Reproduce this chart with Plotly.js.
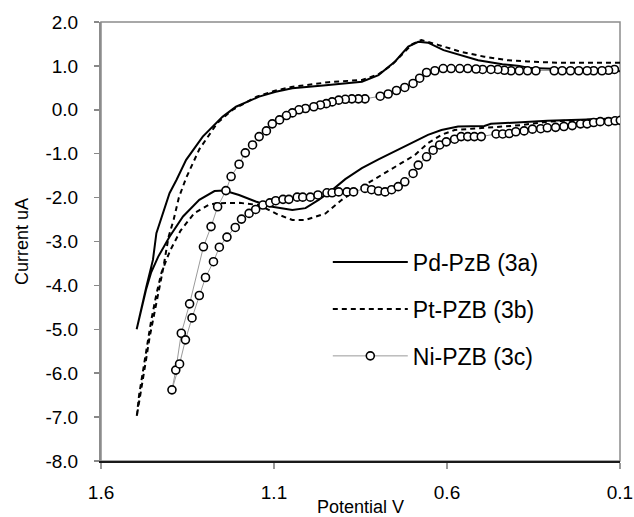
<!DOCTYPE html>
<html>
<head>
<meta charset="utf-8">
<script src="https://cdn.plot.ly/plotly-3.0.1.min.js"></script>
<style>html,body{margin:0;padding:0;background:#fff;}#chart{width:634px;height:517px;}</style>
</head>
<body>
<div id="chart"></div>
<script>
// Tick labels
const xTicks = [1.6, 1.1, 0.6, 0.1];
const xTickText = ["1.6", "1.1", "0.6", "0.1"];
const yTicks = [2, 1, 0, -1, -2, -3, -4, -5, -6, -7, -8];
const yTickText = ["2.0", "1.0", "0.0", "-1.0", "-2.0", "-3.0", "-4.0", "-5.0", "-6.0", "-7.0", "-8.0"];

const seriesNames = ["Pd-PzB (3a)", "Pt-PZB (3b)", "Ni-PZB (3c)"];

// Pd-PzB (3a): upper branch (right to left) then lower branch (tip to right)
const pdUpperX = [0.10, 0.13, 0.27, 0.36, 0.39, 0.44, 0.51, 0.56, 0.61, 0.655, 0.683, 0.712, 0.75, 0.798, 0.846, 0.95, 1.047, 1.095, 1.143, 1.21, 1.249, 1.306, 1.354, 1.382, 1.402, 1.44, 1.45, 1.469, 1.483, 1.497];
const pdUpperY = [0.88, 0.90, 0.93, 0.95, 1.00, 1.04, 1.13, 1.25, 1.36, 1.53, 1.55, 1.44, 1.10, 0.79, 0.64, 0.56, 0.49, 0.41, 0.30, 0.07, -0.16, -0.61, -1.14, -1.60, -1.90, -2.81, -3.42, -4.03, -4.49, -5.00];
const pdLowerX = [1.485, 1.47, 1.455, 1.435, 1.402, 1.363, 1.316, 1.272, 1.244, 1.201, 1.153, 1.105, 1.047, 1.009, 0.971, 0.932, 0.894, 0.846, 0.798, 0.75, 0.703, 0.655, 0.616, 0.568, 0.492, 0.473, 0.405, 0.31, 0.195, 0.099];
const pdLowerY = [-4.6, -4.1, -3.7, -3.35, -2.89, -2.43, -2.05, -1.85, -1.84, -1.94, -2.09, -2.21, -2.28, -2.24, -2.05, -1.83, -1.58, -1.33, -1.13, -0.95, -0.76, -0.57, -0.46, -0.38, -0.37, -0.32, -0.29, -0.25, -0.22, -0.19];

// Pt-PZB (3b)
const ptUpperX = [0.10, 0.27, 0.367, 0.425, 0.492, 0.559, 0.626, 0.674, 0.70, 0.73, 0.76, 0.80, 0.846, 0.942, 1.05, 1.10, 1.15, 1.22, 1.264, 1.316, 1.354, 1.375, 1.39, 1.405, 1.42, 1.44, 1.46, 1.47, 1.48, 1.49, 1.497];
const ptUpperY = [1.07, 1.07, 1.10, 1.13, 1.21, 1.32, 1.48, 1.59, 1.50, 1.25, 1.02, 0.80, 0.68, 0.63, 0.52, 0.43, 0.30, 0.00, -0.30, -0.90, -1.55, -2.00, -2.50, -2.90, -3.60, -4.40, -5.20, -5.70, -6.20, -6.70, -7.00];
const ptLowerX = [1.49, 1.48, 1.47, 1.455, 1.44, 1.425, 1.40, 1.37, 1.33, 1.29, 1.268, 1.20, 1.143, 1.09, 1.047, 1.009, 0.951, 0.904, 0.856, 0.798, 0.75, 0.693, 0.655, 0.616, 0.578, 0.511, 0.444, 0.386, 0.31, 0.195, 0.099];
const ptLowerY = [-6.5, -6.0, -5.5, -4.8, -4.2, -3.7, -3.2, -2.75, -2.35, -2.17, -2.13, -2.12, -2.17, -2.38, -2.51, -2.51, -2.36, -2.05, -1.80, -1.52, -1.30, -1.03, -0.76, -0.57, -0.46, -0.42, -0.38, -0.35, -0.27, -0.22, -0.19];

// Ni-PZB (3c)
const niUpperX = [0.116, 0.133, 0.152, 0.176, 0.195, 0.219, 0.243, 0.267, 0.290, 0.343, 0.367, 0.391, 0.415, 0.434, 0.453, 0.473, 0.497, 0.516, 0.540, 0.563, 0.588, 0.611, 0.635, 0.659, 0.679, 0.698, 0.722, 0.746, 0.770, 0.793, 0.837, 0.856, 0.875, 0.894, 0.913, 0.932, 0.949, 0.966, 0.985, 1.009, 1.028, 1.047, 1.064, 1.084, 1.105, 1.122, 1.143, 1.162, 1.183, 1.201, 1.224, 1.239, 1.263, 1.282, 1.304, 1.344, 1.368, 1.384, 1.395];
const niUpperY = [0.92, 0.90, 0.89, 0.89, 0.89, 0.89, 0.89, 0.89, 0.89, 0.89, 0.89, 0.89, 0.89, 0.90, 0.92, 0.92, 0.92, 0.93, 0.94, 0.94, 0.94, 0.94, 0.89, 0.85, 0.72, 0.60, 0.51, 0.44, 0.36, 0.31, 0.25, 0.25, 0.25, 0.24, 0.22, 0.18, 0.14, 0.11, 0.07, 0.03, 0.00, -0.07, -0.13, -0.23, -0.32, -0.48, -0.61, -0.80, -0.98, -1.24, -1.52, -1.84, -2.21, -2.66, -3.12, -4.42, -5.09, -5.93, -6.38];
const niLowerX = [1.373, 1.356, 1.337, 1.316, 1.298, 1.275, 1.258, 1.236, 1.212, 1.194, 1.172, 1.153, 1.132, 1.112, 1.095, 1.074, 1.057, 1.033, 1.017, 0.995, 0.973, 0.947, 0.932, 0.913, 0.889, 0.870, 0.837, 0.818, 0.798, 0.779, 0.760, 0.741, 0.722, 0.698, 0.683, 0.659, 0.640, 0.621, 0.602, 0.578, 0.559, 0.540, 0.521, 0.501, 0.458, 0.439, 0.420, 0.401, 0.377, 0.353, 0.329, 0.310, 0.286, 0.262, 0.238, 0.214, 0.195, 0.176, 0.157, 0.133, 0.114, 0.099];
const niLowerY = [-5.79, -5.24, -4.74, -4.23, -3.82, -3.46, -3.13, -2.90, -2.68, -2.49, -2.36, -2.27, -2.17, -2.12, -2.07, -2.04, -2.04, -1.99, -1.99, -1.99, -1.94, -1.89, -1.89, -1.87, -1.87, -1.87, -1.79, -1.82, -1.85, -1.87, -1.82, -1.75, -1.64, -1.45, -1.26, -1.07, -0.92, -0.80, -0.73, -0.67, -0.61, -0.61, -0.61, -0.61, -0.55, -0.55, -0.54, -0.50, -0.48, -0.44, -0.43, -0.41, -0.40, -0.38, -0.36, -0.32, -0.32, -0.29, -0.27, -0.27, -0.25, -0.24];

const FONT = "Liberation Sans, Arial, Helvetica, sans-serif";

const traces = [
  {
    x: pdUpperX.concat(pdLowerX), y: pdUpperY.concat(pdLowerY),
    name: seriesNames[0], type: "scatter", mode: "lines", legendgroup: "a",
    line: {color: "#000", width: 2}
  },
  {
    x: ptUpperX.concat(ptLowerX), y: ptUpperY.concat(ptLowerY),
    name: seriesNames[1], type: "scatter", mode: "lines", legendgroup: "b",
    line: {color: "#000", width: 2, dash: "5px,4px"}
  },
  {
    x: niUpperX.concat(niLowerX), y: niUpperY.concat(niLowerY),
    name: seriesNames[2], type: "scatter", mode: "lines+markers", legendgroup: "c",
    line: {color: "#9a9a9a", width: 1},
    marker: {symbol: "circle", size: 8, color: "#fff", line: {color: "#000", width: 1.6}}
  }
];

const layout = {
  width: 634, height: 517,
  margin: {l: 101, r: 14, t: 22, b: 56},
  paper_bgcolor: "#fff", plot_bgcolor: "#fff",
  font: {family: FONT, color: "#000", size: 19},
  showlegend: true,
  legend: {
    x: 0.437, y: 0.502, xanchor: "left", yanchor: "top",
    bgcolor: "rgba(0,0,0,0)", borderwidth: 0,
    font: {family: FONT, size: 23, color: "#000"},
    itemwidth: 75, tracegroupgap: 14, traceorder: "grouped"
  },
  xaxis: {
    range: [1.6001, 0.0999], tickvals: xTicks, ticktext: xTickText,
    showgrid: false, zeroline: false,
    showline: true, linecolor: "#1a1a1a", linewidth: 1.5,
    ticks: "outside", ticklen: 6, tickwidth: 2, tickcolor: "#999",
    ticklabelstandoff: 8, ticklabeloverflow: "allow",
    tickfont: {family: FONT, size: 19},
    title: {text: "Potential V", font: {family: FONT, size: 18}, standoff: 0}
  },
  yaxis: {
    range: [-8.0005, 2.0005], tickvals: yTicks, ticktext: yTickText,
    showgrid: false, zeroline: false,
    showline: true, linecolor: "#8c8c8c", linewidth: 2,
    ticks: "outside", ticklen: 5, tickwidth: 1.5, tickcolor: "#888",
    ticklabelstandoff: 12,
    tickfont: {family: FONT, size: 19},
    title: {text: "Current uA", font: {family: FONT, size: 18}, standoff: 12}
  },
  shapes: [
    {type: "rect", xref: "paper", yref: "paper", x0: 0, x1: 1, y0: 0, y1: 1,
     line: {color: "#8c8c8c", width: 1.5}, layer: "below"}
  ]
};

Plotly.newPlot("chart", traces, layout, {staticPlot: true, displayModeBar: false});
</script>
</body>
</html>
